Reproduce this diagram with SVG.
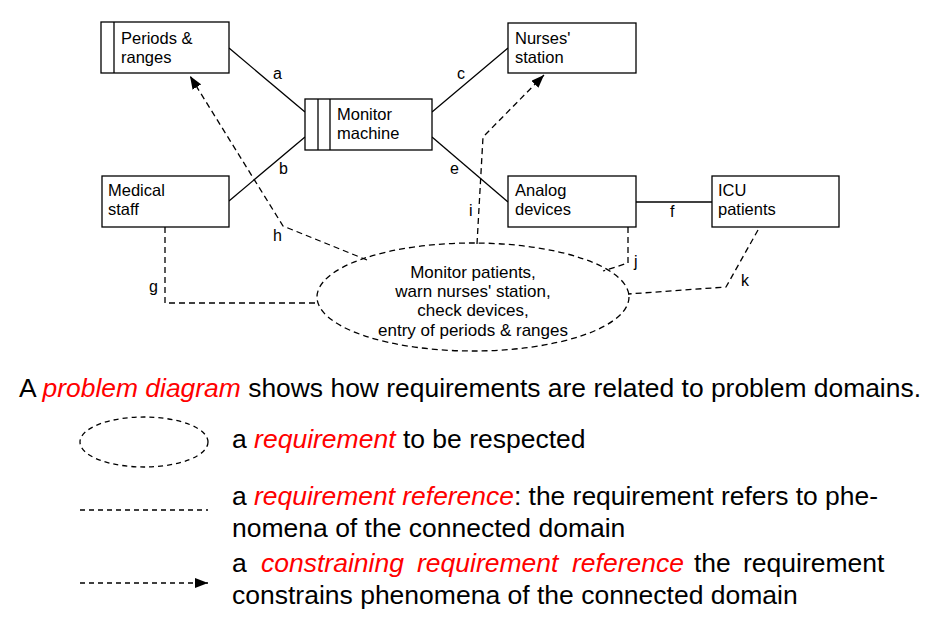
<svg xmlns="http://www.w3.org/2000/svg" width="925" height="618" viewBox="0 0 925 618">
<style>
.box{fill:#fff;stroke:#000;stroke-width:1.3}
.ln{fill:none;stroke:#000;stroke-width:1.3}
.dash{fill:none;stroke:#000;stroke-width:1.3;stroke-dasharray:6 4}
.nt{font-family:"Liberation Sans",Arial,sans-serif;font-size:16.5px;fill:#000}
.lb{font-family:"Liberation Sans",Arial,sans-serif;font-size:16px;fill:#000}
.et{font-family:"Liberation Sans",Arial,sans-serif;font-size:17px;fill:#000;text-anchor:middle}
.big{font-family:"Liberation Sans",Arial,sans-serif;font-size:26.5px;fill:#000}
.red{fill:#ff0000;font-style:italic}
</style>
<defs>
<marker id="arr" markerWidth="13" markerHeight="10" refX="13" refY="5" orient="auto" markerUnits="userSpaceOnUse">
<path d="M0,0 L13,5 L0,10 z" fill="#000"/>
</marker>
</defs>

<g id="connectors">
<line class="ln" x1="229" y1="48" x2="305" y2="112"/>
<line class="ln" x1="229" y1="201" x2="305" y2="137"/>
<line class="ln" x1="432" y1="112" x2="508" y2="48"/>
<line class="ln" x1="432" y1="137" x2="508" y2="202"/>
<line class="ln" x1="636" y1="202" x2="712" y2="202"/>
<polyline class="dash" points="165,227 165,303 317,303"/>
<polyline class="dash" points="367,260 283,226 190,76" marker-end="url(#arr)"/>
<polyline class="dash" points="477,244 483,137 544,75" marker-end="url(#arr)"/>
<polyline class="dash" points="628,227 628,263 603,271"/>
<polyline class="dash" points="758,230 726,287 628,294"/>
<text class="lb" x="273" y="79">a</text>
<text class="lb" x="279" y="174">b</text>
<text class="lb" x="457" y="79">c</text>
<text class="lb" x="450" y="174">e</text>
<text class="lb" x="670" y="217">f</text>
<text class="lb" x="149" y="292">g</text>
<text class="lb" x="273" y="241">h</text>
<text class="lb" x="469" y="216">i</text>
<text class="lb" x="634" y="267">j</text>
<text class="lb" x="741" y="286">k</text>
</g>

<g id="periods">
<rect class="box" x="101" y="22" width="128" height="51"/>
<line class="ln" x1="114" y1="22" x2="114" y2="73"/>
<text class="nt" x="121" y="44">Periods &amp;</text>
<text class="nt" x="121" y="63">ranges</text>
</g>
<g id="monitor">
<rect class="box" x="305" y="99" width="127" height="51"/>
<line class="ln" x1="318" y1="99" x2="318" y2="150"/>
<line class="ln" x1="330" y1="99" x2="330" y2="150"/>
<text class="nt" x="337" y="120">Monitor</text>
<text class="nt" x="337" y="139">machine</text>
</g>
<g id="medical">
<rect class="box" x="102" y="176" width="127" height="51"/>
<text class="nt" x="108" y="196">Medical</text>
<text class="nt" x="108" y="215">staff</text>
</g>
<g id="nurses">
<rect class="box" x="508" y="23" width="128" height="50"/>
<text class="nt" x="515" y="44">Nurses'</text>
<text class="nt" x="515" y="63">station</text>
</g>
<g id="analog">
<rect class="box" x="508" y="176" width="128" height="51"/>
<text class="nt" x="515" y="196">Analog</text>
<text class="nt" x="515" y="215">devices</text>
</g>
<g id="icu">
<rect class="box" x="712" y="176" width="127" height="51"/>
<text class="nt" x="718" y="196">ICU</text>
<text class="nt" x="718" y="215">patients</text>
</g>
<g id="requirement">
<ellipse class="dash" cx="473" cy="297" rx="156" ry="54"/>
<text class="et" x="473" y="278">Monitor patients,</text>
<text class="et" x="473" y="297">warn nurses' station,</text>
<text class="et" x="473" y="316">check devices,</text>
<text class="et" x="473" y="336">entry of periods &amp; ranges</text>
</g>

<g id="legend">
<text class="big" x="19" y="397" textLength="902" lengthAdjust="spacingAndGlyphs">A <tspan class="red">problem diagram</tspan> shows how requirements are related to problem domains.</text>
<ellipse class="dash" cx="144" cy="442" rx="64" ry="25" style="stroke-dasharray:5 4"/>
<text class="big" x="232" y="448">a <tspan class="red">requirement</tspan> to be respected</text>
<line class="dash" x1="80" y1="510" x2="208" y2="510" style="stroke-dasharray:5 4"/>
<text class="big" x="232" y="505" textLength="646" lengthAdjust="spacingAndGlyphs">a <tspan class="red">requirement reference</tspan>: the requirement refers to phe-</text>
<text class="big" x="232" y="537">nomena of the connected domain</text>
<line class="dash" x1="80" y1="583" x2="208" y2="583" style="stroke-dasharray:5 4" marker-end="url(#arr)"/>
<text class="big" y="572"><tspan x="232">a</tspan><tspan class="red" x="261">constraining</tspan><tspan class="red" x="417">requirement</tspan><tspan class="red" x="572">reference</tspan><tspan x="694">the</tspan><tspan x="743">requirement</tspan></text>
<text class="big" x="232" y="604">constrains phenomena of the connected domain</text>
</g>
</svg>
